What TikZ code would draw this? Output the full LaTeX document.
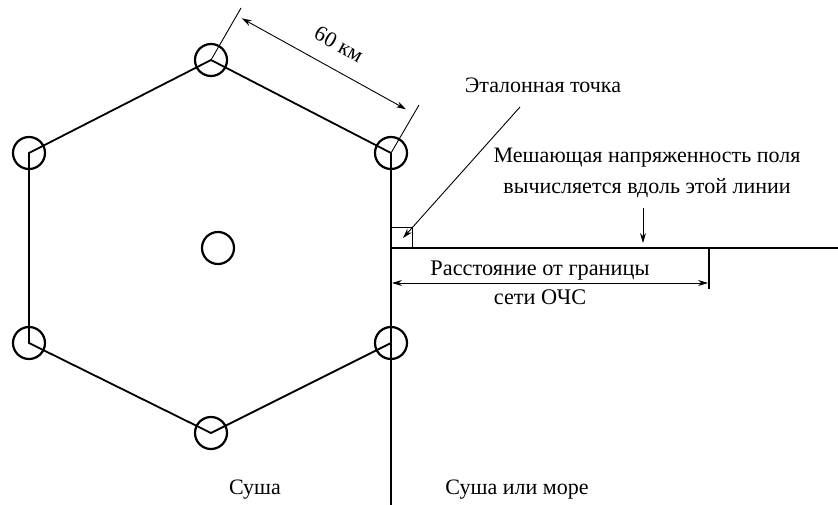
\documentclass[tikz,border=0pt]{standalone}
\usepackage{fontspec}
\setmainfont{Liberation Serif}
\newfontfamily\lserif{Liberation Serif}
\usetikzlibrary{arrows.meta}
\begin{document}
\begin{tikzpicture}[x=1pt,y=-1pt,
 site/.style={circle,draw,line width=2.2pt,minimum size=32pt,inner sep=0pt},
 hexedge/.style={line width=1.8pt},
 thinline/.style={line width=0.9pt},
 lbl/.style={font=\lserif\fontsize{22}{31}\selectfont, inner sep=0pt, align=center},
 tipend/.style={-{Stealth[length=10pt,width=6pt]}},
 bothtips/.style={{Stealth[length=10pt,width=6pt]}-{Stealth[length=10pt,width=6pt]}}]
\useasboundingbox (0,0) rectangle (838,505);
% sites
\coordinate (pt) at (211,60);
\coordinate (ptr) at (391,153);
\coordinate (pbr) at (391,343);
\coordinate (pb) at (211,433);
\coordinate (pbl) at (29,343);
\coordinate (ptl) at (29,153);
\coordinate (pc) at (218,248);
% hexagon
\draw[hexedge] (ptr) -- (pt) -- (ptl) -- (pbl) -- (pb) -- (pbr);
\coordinate (bnd) at (391,505);
\draw[hexedge, line width=1.5pt] (ptr) -- (bnd);
\node[site] (t) at (pt) {};
\node[site] (tr) at (ptr) {};
\node[site] (br) at (pbr) {};
\node[site] (b) at (pb) {};
\node[site] (bl) at (pbl) {};
\node[site] (tl) at (ptl) {};
\node[site] (c) at (pc) {};
% dimension 60 km
\coordinate (e1) at (241,8);
\coordinate (e2) at (419,105);
\draw[thinline] (t.center) -- (e1);
\draw[thinline] (tr.center) -- (e2);
\coordinate (d1) at (241.7,18.3);
\coordinate (d2) at (406,109.3);
\draw[thinline, bothtips] (d1) -- (d2);
\node[lbl, rotate=-29] (km) at (339,44) {60 км};
% reference point
\coordinate (hl) at (391,248);
\coordinate (hr) at (838,248);
\draw[line width=1.4pt] (hl) -- (hr);
\coordinate (sq1) at (391,227);
\coordinate (sq2) at (412.5,248);
\draw[thinline] (sq1) -| (sq2);
\node[lbl, anchor=base] (ref) at (543,93) {Эталонная точка};
\coordinate (l1) at (520,107);
\coordinate (l2) at (403,238);
\draw[thinline, tipend] (l1) -- (l2);
% field line label
\node[lbl] (fld) at (647,173) {Мешающая напряженность поля\\вычисляется вдоль этой линии};
\coordinate (a1) at (643,208);
\coordinate (a2) at (643,243);
\draw[thinline, tipend] (a1) -- (a2);
% distance
\coordinate (tk1) at (709,248);
\coordinate (tk2) at (709,289);
\draw[line width=1.2pt] (tk1) -- (tk2);
\coordinate (dd1) at (392,283);
\coordinate (dd2) at (708,283);
\draw[thinline, bothtips] (dd1) -- (dd2);
\node[lbl, font=\lserif\fontsize{22.3}{29}\selectfont] (dist) at (540,283) {Расстояние от границы\\сети ОЧС};
% bottom labels
\node[lbl] (land) at (255,490) {Суша};
\node[lbl] (sea) at (517,490) {Суша или море};
\end{tikzpicture}
\end{document}
